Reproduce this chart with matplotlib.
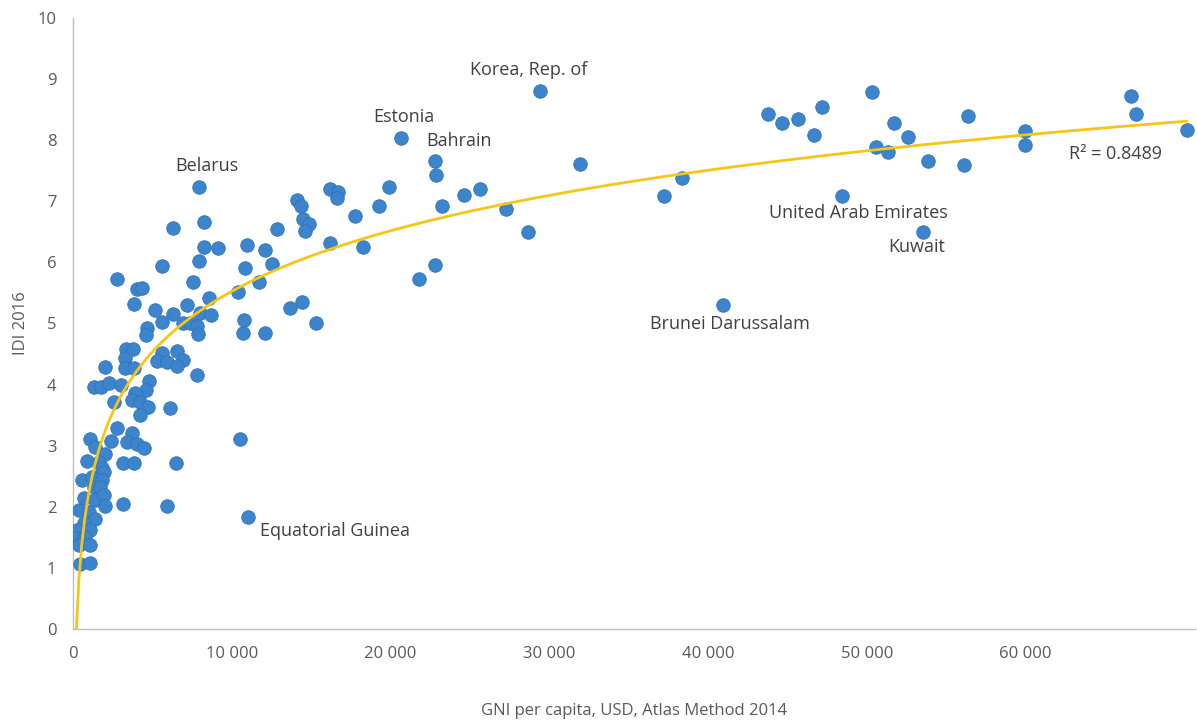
import matplotlib.pyplot as plt
import numpy as np

plt.rcParams['font.family'] = ['Open Sans', 'DejaVu Sans']

# GNI per capita (USD, Atlas 2014) and IDI 2016
gni = [
    # labelled countries
    29410, 20650, 22800, 7930, 48420, 53520, 40930, 11020,
    # high income group
    22860, 23240, 24620, 25630, 31930, 27270, 28650, 22800, 21790,
    43760, 44650, 45650, 47170, 46660, 50310, 51700, 52580, 50560,
    51320, 53840, 38350, 37220, 56360, 56110, 59950, 59950, 66620,
    66940, 70150,
    # middle group
    8250, 6300, 8250, 9130, 10960, 7930, 5600, 10830, 2770, 7560,
    4030, 4340, 10390, 8560, 3840, 7180, 5160, 6300, 8000, 8690,
    5600, 6930, 7370, 7810, 10770, 10710, 4660, 4600, 7870, 3340,
    3780, 3270, 5600, 6550, 5290, 5920, 6930, 6550, 2020, 3270,
    3840, 1320, 1760, 2270, 3020, 4790, 4600, 3900, 2580, 3720,
    4220, 4720, 6110, 4220, 2770, 3720, 1070, 2390, 3400, 4030,
    4470, 7810, 10520, 6490, 5920, 3150, 3150, 3840,
    16180, 16690, 16620, 19900, 14110, 14360, 17760, 19270, 14480,
    14860, 14610, 12850, 12090, 16180, 12530, 18260, 11710, 13660,
    14420, 15300, 12090,
    # low income cluster
    1390, 2020, 880, 1640, 1830, 1950, 570, 1200, 1830, 1320,
    1700, 690, 1390, 1950, 2020, 380, 1010, 1390, 690, 1070,
    250, 200, 760, 380, 1070, 440, 1070,
]
idi = [
    8.81, 8.04, 7.66, 7.23, 7.09, 6.50, 5.30, 1.83,
    7.43, 6.92, 7.10, 7.20, 7.61, 6.87, 6.50, 5.96, 5.73,
    8.43, 8.28, 8.35, 8.54, 8.09, 8.79, 8.28, 8.05, 7.89,
    7.81, 7.66, 7.38, 7.09, 8.40, 7.59, 8.15, 7.92, 8.72,
    8.43, 8.17,
    6.66, 6.56, 6.25, 6.24, 6.28, 6.02, 5.94, 5.91, 5.73, 5.68,
    5.56, 5.58, 5.52, 5.42, 5.32, 5.30, 5.22, 5.16, 5.17, 5.14,
    5.02, 5.01, 5.01, 4.96, 5.06, 4.84, 4.93, 4.81, 4.83, 4.58,
    4.58, 4.44, 4.52, 4.55, 4.39, 4.37, 4.40, 4.30, 4.29, 4.27,
    4.27, 3.96, 3.96, 4.03, 3.99, 4.06, 3.91, 3.86, 3.72, 3.75,
    3.72, 3.63, 3.62, 3.50, 3.29, 3.21, 3.11, 3.08, 3.06, 3.03,
    2.96, 4.16, 3.11, 2.72, 2.01, 2.05, 2.72, 2.72,
    7.20, 7.15, 7.05, 7.23, 7.02, 6.92, 6.76, 6.92, 6.71,
    6.63, 6.51, 6.55, 6.20, 6.32, 5.97, 6.25, 5.68, 5.25,
    5.35, 5.01, 4.84,
    2.98, 2.86, 2.75, 2.73, 2.64, 2.57, 2.44, 2.49, 2.44, 2.32,
    2.32, 2.14, 2.11, 2.19, 2.01, 1.95, 1.91, 1.80, 1.73, 1.62,
    1.62, 1.49, 1.51, 1.37, 1.37, 1.06, 1.08,
]
# first entries of gni/idi are the labelled countries
label_names = ["Korea, Rep. of", "Estonia", "Bahrain", "Belarus",
               "United Arab Emirates", "Kuwait", "Brunei Darussalam",
               "Equatorial Guinea"]
r2_text = "R² = 0.8489"

x = np.array(gni, dtype=float)
y = np.array(idi, dtype=float)

fig = plt.figure(figsize=(11.97, 7.22), dpi=100)
ax = fig.add_axes([0.061, 0.129, 0.937, 0.846])

ax.scatter(x, y, s=95, color='#3C84CC', edgecolors='#2F74BA', linewidths=0.6, zorder=3)

# logarithmic trendline
a, b = np.polyfit(np.log(x), y, 1)
x_fit = np.linspace(x.min(), x.max(), 400)
ax.plot(x_fit, a * np.log(x_fit) + b, color='#F5C518', linewidth=2.0, zorder=4)

# country labels (offsets in points)
offsets = [(-50, 15), (-20, 15), (-6.5, 14.5), (-17, 15),
           (-52.5, -12.2), (-24.5, -10.8), (-52.5, -13.7), (8.6, -10)]
for i, name in enumerate(label_names):
    ax.annotate(name, (x[i], y[i]), xytext=offsets[i], textcoords='offset points',
                ha='left', va='center', fontsize=13, color='#404040')

ax.text(0.888, 0.777, r2_text, transform=ax.transAxes, ha='left', va='center',
        fontsize=13, color='#404040')

ax.set_xlim(0, 70650)
ax.set_ylim(0, 10)
ax.set_xticks(np.arange(0, 60001, 10000))
ax.set_xticklabels(['0', '10 000', '20 000', '30 000', '40 000', '50 000', '60 000'])
ax.set_yticks(np.arange(0, 11, 1))
ax.tick_params(length=0, labelsize=12, labelcolor='#595959')
ax.tick_params(axis='x', pad=12)
ax.tick_params(axis='y', pad=12)

for side in ['top', 'right']:
    ax.spines[side].set_visible(False)
for side in ['left', 'bottom']:
    ax.spines[side].set_color('#BFBFBF')
    ax.spines[side].set_linewidth(1.0)

ax.set_xlabel("GNI per capita, USD, Atlas Method 2014", fontsize=12, color='#595959', labelpad=30)
ax.set_ylabel("IDI 2016", fontsize=12, color='#595959', labelpad=6)

plt.savefig("out.png", dpi=100)
